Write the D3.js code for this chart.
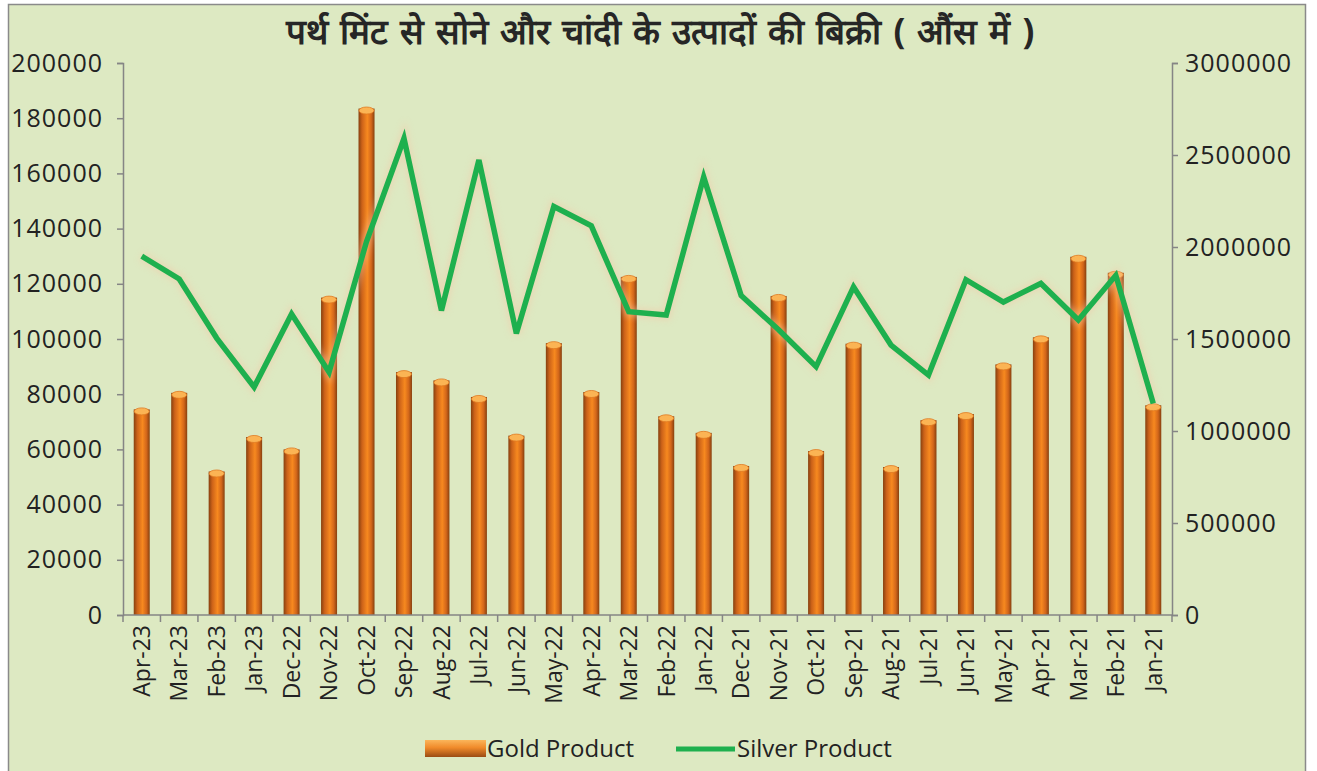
<!DOCTYPE html>
<html>
<head>
<meta charset="utf-8">
<script src="https://cdn.jsdelivr.net/npm/d3@7"></script>
<style>
  body { margin: 0; background: #fff; }
  text { font-family: "Open Sans", "DejaVu Sans", sans-serif; }
</style>
</head>
<body>
<div id="chart"></div>
<script>
var months = ["Apr-23","Mar-23","Feb-23","Jan-23","Dec-22","Nov-22","Oct-22","Sep-22","Aug-22","Jul-22",
  "Jun-22","May-22","Apr-22","Mar-22","Feb-22","Jan-22","Dec-21","Nov-21","Oct-21","Sep-21",
  "Aug-21","Jul-21","Jun-21","May-21","Apr-21","Mar-21","Feb-21","Jan-21"];
var gold = [74500, 80500, 52000, 64500, 60000, 115000, 183500, 88000, 85000, 79000,
  65000, 98500, 80800, 122500, 72000, 66000, 54000, 115600, 59400, 98300,
  53600, 70600, 72800, 90800, 100600, 129800, 124000, 76000];
var silver = [1950000, 1826000, 1505000, 1239000, 1636000, 1320000, 2030000, 2590000, 1655000, 2473000,
  1530000, 2220000, 2115000, 1648000, 1630000, 2380000, 1736000, 1550000, 1350000, 1783000,
  1467000, 1304000, 1822000, 1701000, 1802000, 1603000, 1846000, 1150000];
var leftTicks = [0, 20000, 40000, 60000, 80000, 100000, 120000, 140000, 160000, 180000, 200000];
var rightTicks = [0, 500000, 1000000, 1500000, 2000000, 2500000, 3000000];
var title = "पर्थ मिंट से सोने और चांदी के उत्पादों की बिक्री ( औंस में )";

var W = 1317, H = 771;
var plotL = 123, plotR = 1172, plotT = 63, plotB = 615;
var axisColor = "#858585";

var svg = d3.select("#chart").append("svg")
  .attr("width", W)
  .attr("height", H)

var defs = svg.append("defs")
var g1 = defs.append("linearGradient").attr("id", "barGrad").attr("x1", 0).attr("x2", 1).attr("y1", 0).attr("y2", 0)
g1.append("stop").attr("offset", "0%").attr("stop-color", "#86400f")
g1.append("stop").attr("offset", "22%").attr("stop-color", "#cc6219")
g1.append("stop").attr("offset", "55%").attr("stop-color", "#f7891f")
g1.append("stop").attr("offset", "80%").attr("stop-color", "#d2661a")
g1.append("stop").attr("offset", "100%").attr("stop-color", "#86400f")

var g2 = defs.append("linearGradient").attr("id", "legGrad").attr("x1", 0).attr("x2", 0).attr("y1", 0).attr("y2", 1)
g2.append("stop").attr("offset", "0%").attr("stop-color", "#fbb55a")
g2.append("stop").attr("offset", "45%").attr("stop-color", "#f08a2a")
g2.append("stop").attr("offset", "100%").attr("stop-color", "#9a4c14")

var glow = defs.append("filter").attr("id", "glow").attr("x", "-10%").attr("y", "-10%").attr("width", "120%").attr("height", "120%")
glow.append("feGaussianBlur").attr("stdDeviation", 3)

// frame
svg.append("rect")
  .attr("x", 8.5).attr("y", 4.5)
  .attr("width", 1297).attr("height", 780)
  .attr("fill", "#dde9c2")
  .attr("stroke", "#8a8a8a")
  .attr("stroke-width", 1.5)

svg.append("text")
  .attr("x", 660)
  .attr("y", 44)
  .attr("text-anchor", "middle")
  .attr("font-size", 35)
  .attr("font-weight", "bold")
  .attr("word-spacing", 3)
  .attr("fill", "#262626")
  .text(title)

var x = d3.scaleBand().domain(months).range([plotL, plotR]).padding(0);
var yL = d3.scaleLinear().domain([0, 200000]).range([plotB, plotT]);
var yR = d3.scaleLinear().domain([0, 3000000]).range([plotB, plotT]);
var barW = 16;

// bars
var bars = svg.append("g")
bars.selectAll("rect")
  .data(gold)
  .enter()
    .append("rect")
    .attr("x", function(d, i) { return x(months[i]) + x.bandwidth() / 2 - barW / 2; })
    .attr("y", function(d) { return yL(d); })
    .attr("width", barW)
    .attr("height", function(d) { return plotB - yL(d); })
    .attr("fill", "url(#barGrad)")
bars.selectAll("ellipse")
  .data(gold)
  .enter()
    .append("ellipse")
    .attr("cx", function(d, i) { return x(months[i]) + x.bandwidth() / 2; })
    .attr("cy", function(d) { return yL(d) + 2; })
    .attr("rx", barW / 2 - 0.5)
    .attr("ry", 3.5)
    .attr("fill", "#fbb454")
    .attr("stroke", "#e07a22")
    .attr("stroke-width", 0.8)

// silver line
var line = d3.line()
  .x(function(d, i) { return x(months[i]) + x.bandwidth() / 2; })
  .y(function(d) { return yR(d); });

svg.append("path")
  .datum(silver)
  .attr("d", line)
  .attr("fill", "none")
  .attr("stroke", "#f3c9a8")
  .attr("stroke-width", 10)
  .attr("opacity", 0.5)
  .attr("filter", "url(#glow)")

svg.append("path")
  .datum(silver)
  .attr("d", line)
  .attr("fill", "none")
  .attr("stroke", "#1eb04e")
  .attr("stroke-width", 5.5)
  .attr("stroke-linejoin", "miter")

// axes
var axL = svg.append("g")
  .attr("transform", "translate(" + plotL + ",0)")
  .call(d3.axisLeft(yL).tickValues(leftTicks).tickSize(6).tickPadding(14).tickFormat(d3.format("d")))
var axR = svg.append("g")
  .attr("transform", "translate(" + plotR + ",0)")
  .call(d3.axisRight(yR).tickValues(rightTicks).tickSize(6).tickPadding(7).tickFormat(d3.format("d")))

;[axL, axR].forEach(function(ax) {
  ax.select(".domain").attr("stroke", axisColor).attr("stroke-width", 1.5)
  ax.selectAll(".tick line").attr("stroke", axisColor).attr("stroke-width", 1.5)
  ax.selectAll(".tick text")
    .attr("font-size", 25)
    .attr("letter-spacing", 1)
    .attr("fill", "#222")
    .attr("font-family", "Open Sans, sans-serif")
})

// bottom axis with ticks between categories
var axB = svg.append("g")
axB.append("line")
  .attr("x1", plotL).attr("x2", plotR)
  .attr("y1", plotB).attr("y2", plotB)
  .attr("stroke", axisColor).attr("stroke-width", 1.5)
axB.selectAll("line.tk")
  .data(months.concat(["_end"]))
  .enter()
    .append("line")
    .attr("class", "tk")
    .attr("x1", function(d, i) { return plotL + i * x.bandwidth(); })
    .attr("x2", function(d, i) { return plotL + i * x.bandwidth(); })
    .attr("y1", plotB)
    .attr("y2", plotB + 7)
    .attr("stroke", axisColor).attr("stroke-width", 1.5)
axB.selectAll("text")
  .data(months)
  .enter()
    .append("text")
    .attr("transform", function(d) { return "translate(" + (x(d) + x.bandwidth() / 2) + "," + (plotB + 10) + ") rotate(-90)"; })
    .attr("text-anchor", "end")
    .attr("dy", "0.36em")
    .attr("font-size", 23)
    .attr("fill", "#222")
    .text(function(d) { return d; })

// legend
var leg = svg.append("g")
leg.append("rect")
  .attr("x", 425).attr("y", 740)
  .attr("width", 61).attr("height", 17)
  .attr("fill", "url(#legGrad)")
leg.append("text")
  .attr("x", 487).attr("y", 757)
  .attr("font-size", 24)
  .attr("fill", "#222")
  .text("Gold Product")
leg.append("line")
  .attr("x1", 676).attr("x2", 735)
  .attr("y1", 749).attr("y2", 749)
  .attr("stroke", "#1eb04e")
  .attr("stroke-width", 5)
leg.append("text")
  .attr("x", 737).attr("y", 757)
  .attr("font-size", 24)
  .attr("fill", "#222")
  .text("Silver Product")
</script>
</body>
</html>
